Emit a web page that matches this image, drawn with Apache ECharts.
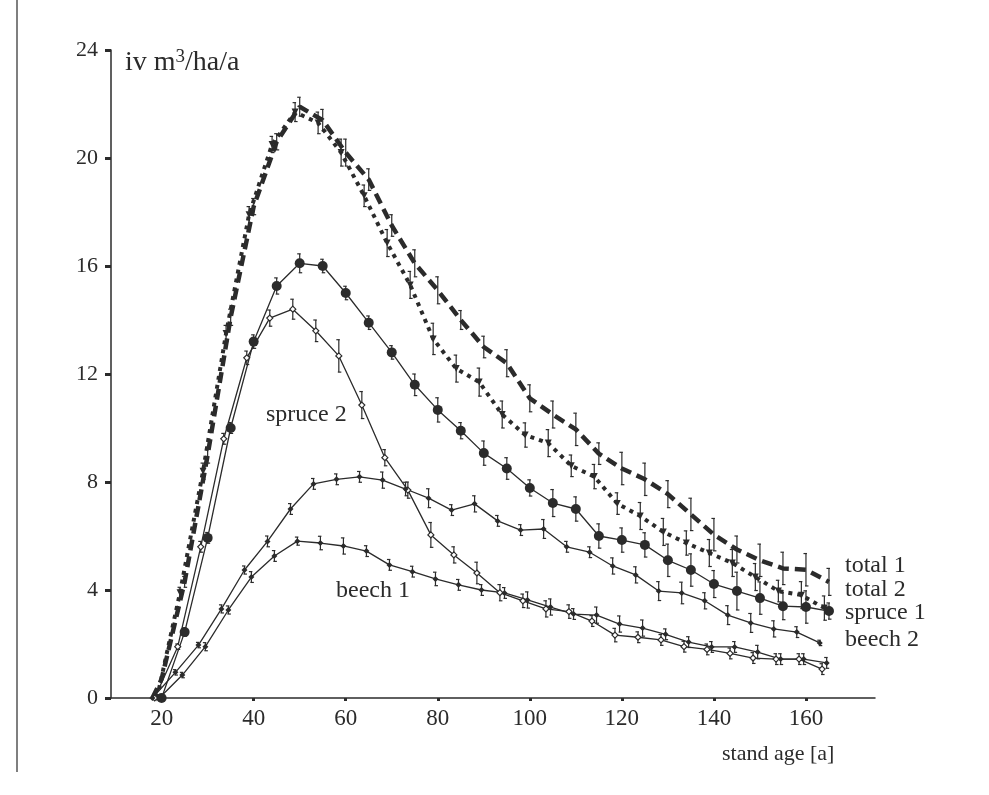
<!DOCTYPE html>
<html lang="en">

<head>
    <meta charset="UTF-8">
    <title>increment over stand age</title>
    <style>
        html, body {
            margin: 0;
            padding: 0;
            background: #fff;
        }
        #main {
            width: 989px;
            height: 795px;
        }
    </style>
</head>

<body>
    <div id="main"></div>
    <script src="https://cdn.jsdelivr.net/npm/echarts@6/dist/echarts.min.js"></script>
    <script>
        // stand age [a] of each plotted point, one list per curve
        const ageTotal1 = [18, 20, 25, 30, 35, 40, 45, 50, 55, 60, 65, 70, 75, 80, 85, 90, 95, 100, 105, 110, 115, 120, 125, 130, 135, 140, 145, 150, 155, 160, 165];
        const ageTotal2 = [19, 24, 29, 34, 39, 44, 49, 54, 59, 64, 69, 74, 79, 84, 89, 94, 99, 104, 109, 114, 119, 124, 129, 134, 139, 144, 149, 154, 159, 164];
        const ageSpruce1 = [20, 25, 30, 35, 40, 45, 50, 55, 60, 65, 70, 75, 80, 85, 90, 95, 100, 105, 110, 115, 120, 125, 130, 135, 140, 145, 150, 155, 160, 165];
        const ageSpruce2 = [18.5, 23.5, 28.5, 33.5, 38.5, 43.5, 48.5, 53.5, 58.5, 63.5, 68.5, 73.5, 78.5, 83.5, 88.5, 93.5, 98.5, 103.5, 108.5, 113.5, 118.5, 123.5, 128.5, 133.5, 138.5, 143.5, 148.5, 153.5, 158.5, 163.5];
        const ageBeech1 = [19.5, 24.5, 29.5, 34.5, 39.5, 44.5, 49.5, 54.5, 59.5, 64.5, 69.5, 74.5, 79.5, 84.5, 89.5, 94.5, 99.5, 104.5, 109.5, 114.5, 119.5, 124.5, 129.5, 134.5, 139.5, 144.5, 149.5, 154.5, 159.5, 164.5];
        const ageBeech2 = [18, 23, 28, 33, 38, 43, 48, 53, 58, 63, 68, 73, 78, 83, 88, 93, 98, 103, 108, 113, 118, 123, 128, 133, 138, 143, 148, 153, 158, 163];

        // increment iv [m3/ha/a]
        const total1 = [0, 0.7, 4.3, 9.0, 14.1, 18.2, 20.6, 21.9, 21.4, 20.2, 19.2, 17.5, 16.1, 15.1, 14.0, 13.0, 12.4, 11.1, 10.5, 9.95, 9.05, 8.5, 8.1, 7.55, 6.8, 6.05, 5.5, 5.1, 4.8, 4.75, 4.3];
        const total2 = [0, 3.9, 8.4, 13.5, 17.9, 20.5, 21.7, 21.3, 20.2, 18.6, 16.85, 15.3, 13.3, 12.2, 11.7, 10.5, 9.74, 9.44, 8.6, 8.2, 7.2, 6.74, 6.15, 5.74, 5.37, 5.0, 4.48, 3.96, 3.81, 3.33];
        const spruce1 = [0, 2.44, 5.93, 10.0, 13.2, 15.26, 16.1, 16.0, 15.0, 13.9, 12.8, 11.6, 10.67, 9.9, 9.07, 8.5, 7.78, 7.22, 7.0, 6.0, 5.85, 5.67, 5.1, 4.74, 4.22, 3.96, 3.7, 3.4, 3.37, 3.22];
        const spruce2 = [0, 1.9, 5.6, 9.6, 12.6, 14.07, 14.4, 13.6, 12.67, 10.85, 8.9, 7.7, 6.04, 5.3, 4.63, 3.9, 3.6, 3.3, 3.2, 2.85, 2.33, 2.25, 2.15, 1.9, 1.8, 1.65, 1.48, 1.44, 1.44, 1.07];
        const beech1 = [0, 0.85, 1.9, 3.26, 4.48, 5.26, 5.81, 5.74, 5.63, 5.44, 4.93, 4.68, 4.41, 4.19, 4.0, 3.89, 3.63, 3.37, 3.11, 3.07, 2.74, 2.59, 2.36, 2.07, 1.89, 1.89, 1.7, 1.44, 1.44, 1.3];
        const beech2 = [0, 0.95, 1.96, 3.3, 4.74, 5.8, 7.0, 7.93, 8.1, 8.19, 8.07, 7.74, 7.4, 6.96, 7.19, 6.56, 6.22, 6.26, 5.6, 5.4, 4.89, 4.56, 3.96, 3.89, 3.6, 3.07, 2.78, 2.56, 2.44, 2.04];

        // half length of the error bars
        const errTotal1 = [0, 0, 0.2, 0.3, 0.3, 0.3, 0.3, 0.35, 0.4, 0.5, 0.4, 0.4, 0.5, 0.5, 0.35, 0.4, 0.5, 0.5, 0.5, 0.6, 0.4, 0.6, 0.6, 0.5, 0.6, 0.6, 0.5, 0.6, 0.6, 0.6, 0.5];
        const errTotal2 = [0, 0.2, 0.3, 0.3, 0.3, 0.3, 0.35, 0.4, 0.5, 0.4, 0.5, 0.5, 0.58, 0.5, 0.52, 0.5, 0.45, 0.5, 0.4, 0.45, 0.4, 0.5, 0.5, 0.45, 0.5, 0.5, 0.5, 0.4, 0.5, 0.45];
        const errSpruce1 = [0, 0.15, 0.2, 0.2, 0.25, 0.3, 0.35, 0.25, 0.25, 0.25, 0.25, 0.4, 0.45, 0.3, 0.45, 0.4, 0.3, 0.5, 0.45, 0.45, 0.45, 0.45, 0.6, 0.6, 0.5, 0.7, 0.6, 0.5, 0.6, 0.3];
        const errSpruce2 = [0, 0.1, 0.2, 0.2, 0.25, 0.3, 0.37, 0.4, 0.6, 0.5, 0.3, 0.3, 0.46, 0.3, 0.4, 0.3, 0.25, 0.3, 0.25, 0.2, 0.25, 0.2, 0.2, 0.2, 0.2, 0.2, 0.2, 0.2, 0.2, 0.2];
        const errBeech1 = [0, 0.1, 0.15, 0.15, 0.2, 0.2, 0.15, 0.25, 0.3, 0.2, 0.2, 0.2, 0.25, 0.2, 0.2, 0.2, 0.3, 0.3, 0.2, 0.3, 0.3, 0.3, 0.2, 0.2, 0.2, 0.2, 0.25, 0.2, 0.2, 0.2];
        const errBeech2 = [0, 0.1, 0.1, 0.15, 0.15, 0.2, 0.2, 0.2, 0.2, 0.2, 0.3, 0.25, 0.35, 0.2, 0.3, 0.2, 0.2, 0.35, 0.2, 0.2, 0.3, 0.3, 0.35, 0.4, 0.3, 0.35, 0.35, 0.3, 0.2, 0.1];

        const xTicks = [20, 40, 60, 80, 100, 120, 140, 160];

        const ink = '#2b2b2b';
        const serif = '"Liberation Serif", "DejaVu Serif", serif';

        function pairs(ages, vals) {
            return ages.map((a, i) => [a, vals[i]]);
        }

        function errorSeries(ages, vals, errs) {
            const data = [];
            ages.forEach((a, i) => {
                if (errs[i] > 0) data.push([a, vals[i] - errs[i], vals[i] + errs[i]]);
            });
            return {
                type: 'custom',
                silent: true,
                encode: { x: 0, y: [1, 2] },
                data: data,
                renderItem(params, api) {
                    const x = api.value(0);
                    const lo = api.coord([x, api.value(1)]);
                    const hi = api.coord([x, api.value(2)]);
                    const st = { stroke: ink, lineWidth: 1.2 };
                    return {
                        type: 'group',
                        children: [
                            { type: 'line', shape: { x1: lo[0], y1: lo[1], x2: hi[0], y2: hi[1] }, style: st },
                            { type: 'line', shape: { x1: hi[0] - 2.5, y1: hi[1], x2: hi[0] + 1, y2: hi[1] }, style: st },
                            { type: 'line', shape: { x1: lo[0] - 1, y1: lo[1], x2: lo[0] + 2.5, y2: lo[1] }, style: st }
                        ]
                    };
                }
            };
        }

        function lineSeries(name, ages, vals, symbol, size, line, extra) {
            return Object.assign({
                name: name,
                type: 'line',
                data: pairs(ages, vals),
                symbol: symbol,
                symbolSize: size,
                showSymbol: symbol !== 'none',
                itemStyle: { color: ink },
                lineStyle: Object.assign({ color: ink, width: 1.3 }, line),
                z: 3
            }, extra || {});
        }

        var myChart = echarts.init(document.getElementById('main'));

        option = {
            animation: false,
            backgroundColor: '#fff',
            grid: {
                left: 111,
                right: 114,
                top: 50,
                bottom: 97
            },
            xAxis: {
                type: 'value',
                min: 9,
                max: 175,
                axisLine: { lineStyle: { color: ink, width: 1.5 } },
                axisTick: {
                    customValues: xTicks,
                    length: 3,
                    lineStyle: { color: ink, width: 3 }
                },
                axisLabel: {
                    customValues: xTicks,
                    margin: 9,
                    color: ink,
                    fontFamily: serif,
                    fontSize: 23
                },
                splitLine: { show: false }
            },
            yAxis: {
                type: 'value',
                min: 0,
                max: 24,
                interval: 4,
                axisLine: { show: true, lineStyle: { color: ink, width: 1.5 } },
                axisTick: {
                    show: true,
                    length: 6,
                    lineStyle: { color: ink, width: 3 }
                },
                axisLabel: {
                    margin: 13,
                    color: ink,
                    fontFamily: serif,
                    fontSize: 22
                },
                splitLine: { show: false }
            },
            graphic: [
                { type: 'line', shape: { x1: 17, y1: 0, x2: 17, y2: 772 }, style: { stroke: '#555', lineWidth: 1.5 } },
                {
                    type: 'text', left: 125, top: 48,
                    style: {
                        text: 'iv m{sup|3}/ha/a',
                        font: '28px ' + serif,
                        fill: ink,
                        rich: {
                            sup: { fontSize: 19, fontFamily: serif, verticalAlign: 'top', lineHeight: 30, padding: [0, 0, 10, 0] }
                        }
                    }
                },
                { type: 'text', left: 722, top: 743, style: { text: 'stand age [a]', font: '22px ' + serif, fill: ink } },
                { type: 'text', left: 266, top: 403, style: { text: 'spruce 2', font: '24px ' + serif, fill: ink } },
                { type: 'text', left: 336, top: 579, style: { text: 'beech 1', font: '24px ' + serif, fill: ink } },
                { type: 'text', left: 845, top: 554, style: { text: 'total 1', font: '24px ' + serif, fill: ink } },
                { type: 'text', left: 845, top: 578, style: { text: 'total 2', font: '24px ' + serif, fill: ink } },
                { type: 'text', left: 845, top: 601, style: { text: 'spruce 1', font: '24px ' + serif, fill: ink } },
                { type: 'text', left: 845, top: 628, style: { text: 'beech 2', font: '24px ' + serif, fill: ink } }
            ],
            series: [
                errorSeries(ageTotal1, total1, errTotal1),
                errorSeries(ageTotal2, total2, errTotal2),
                errorSeries(ageSpruce1, spruce1, errSpruce1),
                errorSeries(ageSpruce2, spruce2, errSpruce2),
                errorSeries(ageBeech1, beech1, errBeech1),
                errorSeries(ageBeech2, beech2, errBeech2),
                lineSeries('total 1', ageTotal1, total1, 'none', 0, { width: 4.5, type: [11, 6], cap: 'butt' }),
                lineSeries('total 2', ageTotal2, total2, 'triangle', 7, { width: 4, type: [4, 5], cap: 'butt' }, { symbolRotate: 180 }),
                lineSeries('spruce 1', ageSpruce1, spruce1, 'circle', 10, {}),
                lineSeries('spruce 2', ageSpruce2, spruce2, 'diamond', 6, {},
                    { itemStyle: { color: '#fff', borderColor: ink, borderWidth: 1.2 } }),
                lineSeries('beech 1', ageBeech1, beech1, 'diamond', 6, {}),
                lineSeries('beech 2', ageBeech2, beech2, 'diamond', 6, {})
            ]
        };
        myChart.setOption(option);
    </script>

</body>

</html>
